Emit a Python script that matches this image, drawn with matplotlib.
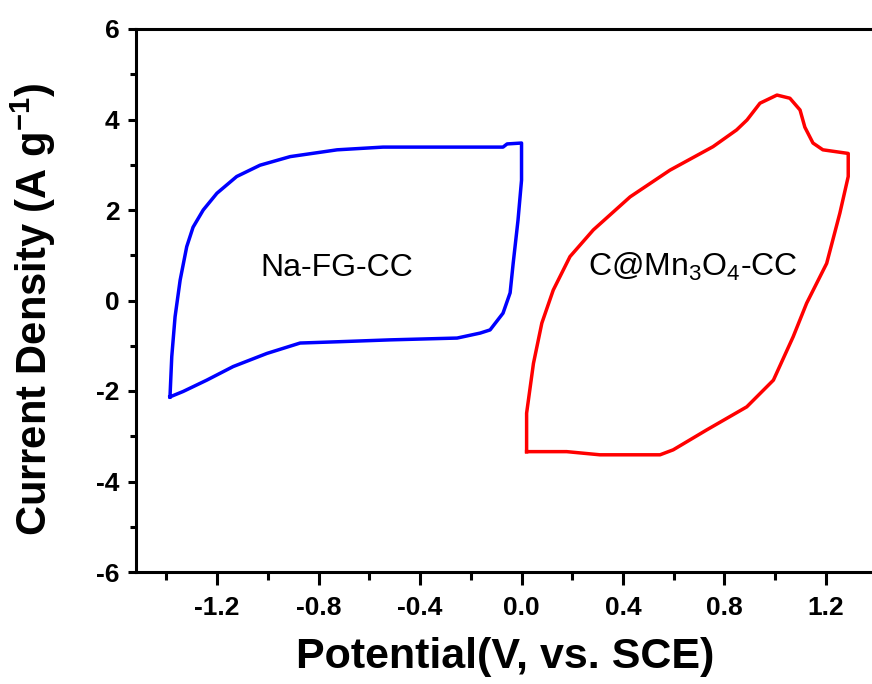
import numpy as np
import matplotlib
matplotlib.use('Agg')
import matplotlib.pyplot as plt
from matplotlib.ticker import MultipleLocator

# CV loop of Na-FG-CC (potential V, current density A/g)
na_x = [-1.386, -1.379, -1.366, -1.346, -1.320, -1.295, -1.255, -1.201, -1.123, -1.031,
        -0.912, -0.727, -0.546, -0.073, -0.057, 0.0, 0.0, -0.014, -0.033, -0.045,
        -0.073, -0.124, -0.163, -0.254, -0.518, -0.715, -0.873, -1.004, -1.137, -1.241,
        -1.334, -1.386]
na_y = [-2.13, -1.24, -0.36, 0.45, 1.19, 1.62, 2.0, 2.37, 2.74, 2.99,
        3.18, 3.33, 3.39, 3.39, 3.46, 3.48, 2.66, 1.77, 0.82, 0.17,
        -0.28, -0.65, -0.72, -0.83, -0.87, -0.91, -0.94, -1.17, -1.46, -1.76,
        -2.01, -2.13]

# CV loop of C@Mn3O4-CC
mn_x = [0.02, 0.02, 0.047, 0.08, 0.125, 0.191, 0.283, 0.428, 0.585, 0.755,
        0.848, 0.889, 0.94, 1.007, 1.058, 1.098, 1.117, 1.149, 1.188, 1.288,
        1.288, 1.255, 1.203, 1.124, 1.071, 0.993, 0.888, 0.730, 0.598, 0.546,
        0.309, 0.178, 0.045, 0.02]
mn_y = [-3.34, -2.49, -1.39, -0.50, 0.23, 0.97, 1.56, 2.29, 2.88, 3.40,
        3.77, 3.99, 4.36, 4.54, 4.47, 4.21, 3.83, 3.48, 3.33, 3.25,
        2.74, 1.93, 0.82, -0.06, -0.80, -1.76, -2.35, -2.86, -3.30, -3.41,
        -3.41, -3.34, -3.34, -3.34]

plt.rcParams['font.family'] = ['Liberation Sans', 'DejaVu Sans']
plt.rcParams['mathtext.fontset'] = 'custom'
plt.rcParams['mathtext.rm'] = 'Liberation Sans'
plt.rcParams['mathtext.bf'] = 'Liberation Sans:bold'
plt.rcParams['mathtext.it'] = 'Liberation Sans'

fig = plt.figure(figsize=(8.72, 6.84), dpi=100)
ax = fig.add_axes([136 / 872, 112 / 684, 766 / 872, 543 / 684])

ax.plot(na_x, na_y, color='#0000ff', lw=2.5, solid_joinstyle='round')
ax.plot(mn_x, mn_y, color='#ff0000', lw=2.5, solid_joinstyle='round')

ax.text(-0.727, 0.72, 'Na-FG-CC', fontsize=23, ha='center', va='center')
ax.text(0.676, 0.74, r'C@Mn$\mathrm{_3}$O$\mathrm{_4}$-CC', fontsize=23,
        ha='center', va='center')

ax.set_xlim(-1.52, 1.5)
ax.set_ylim(-6, 6)
ax.xaxis.set_minor_locator(MultipleLocator(0.2))
ax.yaxis.set_minor_locator(MultipleLocator(1))
ax.set_xticks(np.arange(-1.2, 1.3, 0.4))
ax.set_xticklabels(['-1.2', '-0.8', '-0.4', '0.0', '0.4', '0.8', '1.2'])
ax.set_yticks(np.arange(-6, 7, 2))
ax.set_yticklabels(['-6', '-4', '-2', '0', '2', '4', '6'])

for s in ['left', 'bottom', 'top', 'right']:
    ax.spines[s].set_linewidth(2.2)

ax.tick_params(axis='x', which='major', direction='out', length=9, width=2.2,
               pad=8, labelsize=19)
ax.tick_params(axis='x', which='minor', direction='out', length=6, width=2.2)
ax.tick_params(axis='y', which='major', direction='out', length=6, width=2.2,
               pad=6, labelsize=19)
ax.tick_params(axis='y', which='minor', direction='out', length=4, width=2.2)
for lbl in ax.get_xticklabels() + ax.get_yticklabels():
    lbl.set_fontweight('bold')

fig.text(505 / 872, 1 - 657 / 684, 'Potential(V, vs. SCE)', fontsize=31,
         fontweight='bold', ha='center', va='center')
fig.text(33 / 872, 1 - 309 / 684, r'Current Density (A g$\mathbf{^{-1}}$)',
         fontsize=30, fontweight='bold', ha='center', va='center', rotation=90)

fig.savefig('out.png', dpi=100)
